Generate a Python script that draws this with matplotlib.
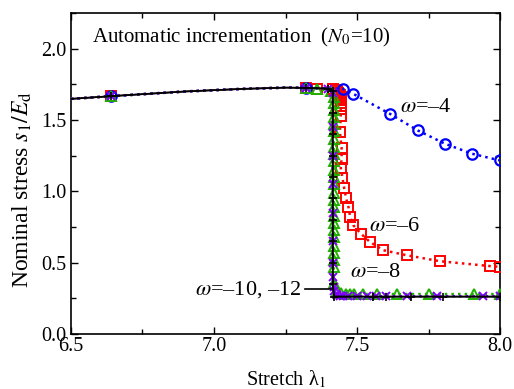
import numpy as np
import matplotlib
matplotlib.use('Agg')
import matplotlib.pyplot as plt
from matplotlib.ticker import MultipleLocator

plt.rcParams['font.family'] = ['Liberation Serif', 'DejaVu Serif']
plt.rcParams['mathtext.fontset'] = 'stix'
plt.rcParams['font.size'] = 11

# shared path before the peak
pre_lam = [6.50, 6.64, 6.90, 7.10, 7.25, 7.32]
pre_s = [1.648, 1.667, 1.700, 1.718, 1.727, 1.725]
pre_mk_lam = [6.64, 7.32]
pre_mk_s = [1.667, 1.725]

# omega = -4 (blue circles)
lam_w4 = [7.45, 7.487, 7.615, 7.712, 7.808, 7.901, 7.998]
s_w4 = [1.718, 1.683, 1.543, 1.427, 1.333, 1.264, 1.217]

# omega = -6 (red squares)
lam_w6 = [7.36, 7.415, 7.425, 7.43, 7.435, 7.44, 7.445, 7.445, 7.445, 7.445, 7.443,
          7.443, 7.440, 7.446, 7.446, 7.443, 7.449, 7.455, 7.462, 7.470, 7.476,
          7.487, 7.513, 7.545, 7.592, 7.673, 7.79, 7.965, 7.998]
s_w6 = [1.72, 1.72, 1.71, 1.70, 1.69, 1.675, 1.66, 1.64, 1.62, 1.60, 1.58,
        1.525, 1.415, 1.305, 1.23, 1.165, 1.095, 1.02, 0.95, 0.89, 0.82,
        0.762, 0.704, 0.645, 0.587, 0.552, 0.51, 0.476, 0.471]

# omega = -8 (green triangles)
lam_w8 = [7.36, 7.41, 7.418, 7.418, 7.418, 7.418, 7.418, 7.418, 7.418, 7.418,
          7.418, 7.418, 7.418, 7.418, 7.418, 7.418, 7.418, 7.418, 7.418, 7.418,
          7.418, 7.418, 7.418, 7.418, 7.418, 7.418, 7.42, 7.43, 7.445, 7.46,
          7.475, 7.49, 7.52, 7.57, 7.64, 7.75, 7.91, 8.0]
s_w8 = [1.72, 1.70, 1.66, 1.62, 1.57, 1.52, 1.47, 1.42, 1.37, 1.31,
        1.26, 1.21, 1.15, 1.10, 1.05, 0.99, 0.94, 0.89, 0.83, 0.78,
        0.73, 0.68, 0.62, 0.57, 0.52, 0.47, 0.36, 0.30, 0.29, 0.283,
        0.28, 0.28, 0.28, 0.28, 0.28, 0.28, 0.28, 0.28]

# omega = -12 (purple crosses)
lam_w12 = [7.40, 7.415, 7.415, 7.415, 7.415, 7.415, 7.415, 7.415, 7.415, 7.418,
           7.42, 7.425, 7.43, 7.44, 7.45, 7.47, 7.50, 7.535, 7.565, 7.60,
           7.675, 7.78, 7.94, 8.0]
s_w12 = [1.72, 1.69, 1.45, 1.25, 1.05, 0.85, 0.65, 0.50, 0.40, 0.33,
         0.30, 0.28, 0.27, 0.265, 0.265, 0.265, 0.265, 0.265, 0.265, 0.265,
         0.265, 0.265, 0.265, 0.265]

# omega = -10 (black plus, solid line)
lam_w10 = [7.40, 7.415, 7.415, 7.415, 7.415, 7.415, 7.415, 7.415, 7.415, 7.415,
           7.415, 7.42, 7.555, 7.60, 7.687, 7.80, 8.0]
s_w10 = [1.72, 1.70, 1.55, 1.40, 1.25, 1.10, 0.95, 0.80, 0.65, 0.50,
         0.35, 0.262, 0.262, 0.262, 0.262, 0.262, 0.262]

fig = plt.figure(figsize=(5.14, 3.89), dpi=100)
ax = fig.add_axes([0.138, 0.1414, 0.835, 0.8252])

def draw(lam, s, color, marker, ls, ms, mew, z):
    ax.plot(pre_lam + lam, pre_s + s, color=color, ls=ls, lw=1.8 if ls == ':' else 1.2, zorder=z)
    ax.plot(pre_mk_lam + lam, pre_mk_s + s, ls='none', marker=marker, ms=ms,
            mfc='none', mec=color, mew=mew, zorder=z)

draw(lam_w6, s_w6, '#ff0000', 's', ':', 7.5, 1.4, 3)
draw(lam_w4, s_w4, '#0000ff', 'o', ':', 7.5, 1.6, 4)
draw(lam_w8, s_w8, '#22b000', '^', ':', 7.5, 1.4, 5)
draw(lam_w12, s_w12, '#8000ff', 'x', ':', 5.5, 1.4, 6)
draw(lam_w10, s_w10, 'black', '+', '-', 6, 1.2, 7)
# solid black curve drawn on top
ax.plot(pre_lam + lam_w10, pre_s + s_w10, color='black', lw=1.2, zorder=8)

ax.text(7.65, 1.59, r'$\omega$=–4', fontsize=16, va='center', ha='left')
ax.text(7.54, 0.755, r'$\omega$=–6', fontsize=16, va='center', ha='left')
ax.text(7.475, 0.43, r'$\omega$=–8', fontsize=16, va='center', ha='left')
ax.text(7.306, 0.315, r'$\omega$=–10, –12', fontsize=16, va='center', ha='right')
ax.plot([7.318, 7.41], [0.315, 0.315], color='black', lw=1.2, zorder=9)
ax.text(0.049, 0.925, r'Automatic incrementation  ($N_0$=10)', transform=ax.transAxes,
        fontsize=15, va='center', ha='left')

ax.set_xlim(6.5, 8.0)
ax.set_ylim(0.0, 2.25)
ax.xaxis.set_major_locator(MultipleLocator(0.5))
ax.xaxis.set_minor_locator(MultipleLocator(0.25))
ax.yaxis.set_major_locator(MultipleLocator(0.5))
ax.yaxis.set_minor_locator(MultipleLocator(0.25))
ax.set_yticks([0.0, 0.5, 1.0, 1.5, 2.0])
ax.tick_params(which='both', direction='in', top=True, right=True, labelsize=14.5, width=1.0)
ax.tick_params(which='major', length=5)
ax.tick_params(which='minor', length=3.5)
ax.tick_params(axis='x', pad=2)
for sp in ax.spines.values():
    sp.set_linewidth(1.2)

ax.set_xlabel('Stretch λ$_1$', fontsize=14.5, labelpad=9)
ax.set_ylabel('Nominal stress $s_1/E_\\mathrm{d}$', fontsize=17)
ax.yaxis.set_label_coords(-0.086, 0.45)

fig.savefig('out.png', dpi=100)
